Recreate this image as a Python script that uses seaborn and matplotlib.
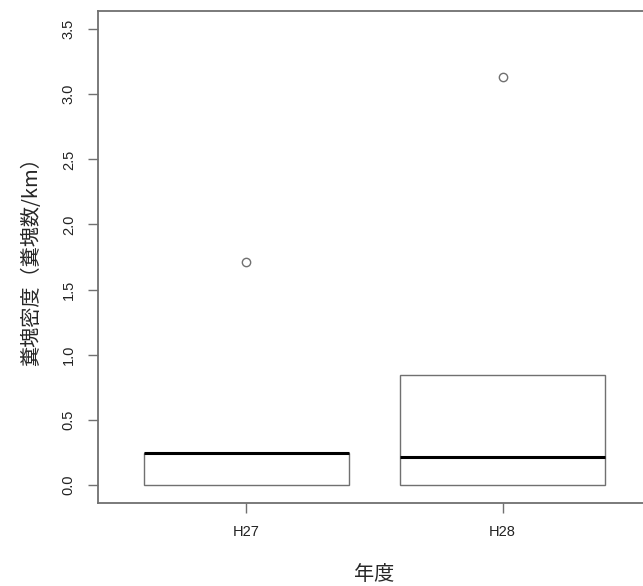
import numpy as np
import pandas as pd
import matplotlib
matplotlib.use("Agg")
import matplotlib.pyplot as plt
import seaborn as sns

# 年度ごとの糞塊密度 (糞塊数/km)
h27 = [0.0, 0.0, 0.0, 0.245, 0.245, 0.245, 1.71]
h28 = [0.0, 0.0, 0.0, 0.12, 0.215, 0.43, 0.845, 0.845, 3.13]
years = ["H27", "H28"]
yticks = [0.0, 0.5, 1.0, 1.5, 2.0, 2.5, 3.0, 3.5]

df = pd.DataFrame({
    "年度": [years[0]] * len(h27) + [years[1]] * len(h28),
    "密度": h27 + h28,
})

sns.set_style("white")
plt.rcParams["font.family"] = ["Liberation Sans", "Noto Sans CJK JP", "DejaVu Sans"]

fig = plt.figure(figsize=(6.43, 5.86), dpi=100)
# right edge of the axes lies just past the figure (cropped like the original)
ax = fig.add_axes([98 / 643, 83 / 586, 553 / 643, 492 / 586])

grey = "#707070"
sns.boxplot(data=df, x="年度", y="密度", order=years, ax=ax, width=0.8,
            whis=1.5, color="white", linecolor=grey, linewidth=1.0,
            showcaps=False,
            medianprops=dict(color="black", linewidth=2.2),
            flierprops=dict(marker="o", markerfacecolor="none",
                            markeredgecolor=grey, markersize=6, markeredgewidth=1.0))

ax.set_xlim(-0.58, 1.58)
ax.set_ylim(-0.14, 3.64)
ax.set_yticks(yticks)
ax.set_yticklabels([f"{v:.1f}" for v in yticks], rotation=90, va="center")

for side in ["left", "bottom", "top"]:
    ax.spines[side].set_color(grey)
    ax.spines[side].set_linewidth(1.3)
ax.spines["right"].set_visible(False)

ax.tick_params(axis="both", direction="out", length=7, width=1.0, color=grey,
               labelsize=10.5, labelcolor="#222222", bottom=True, left=True)
ax.tick_params(axis="y", pad=9)
ax.tick_params(axis="x", pad=9)

cjk = ["Noto Sans CJK JP", "DejaVu Sans"]
ax.set_ylabel("糞塊密度（糞塊数/km）", fontsize=14.5, family=cjk, labelpad=14)
ax.set_xlabel("年度", fontsize=14.5, family=cjk, labelpad=18)

fig.savefig("out.png", dpi=100)
